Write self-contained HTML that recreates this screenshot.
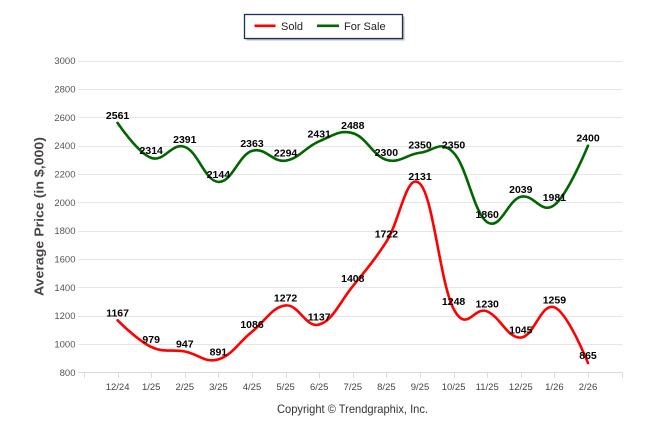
<!DOCTYPE html>
<html><head><meta charset="utf-8">
<style>
html,body{margin:0;padding:0;background:#fff;}
svg{display:block;}
text{font-family:"Liberation Sans",Arial,sans-serif;}
</style></head>
<body>
<svg id="c" width="646" height="434" viewBox="0 0 646 434" xmlns="http://www.w3.org/2000/svg">
<rect width="646" height="434" fill="#fff"/>
<g id="grid" stroke="#e6e6e6" stroke-width="1"></g>
<g id="ylab" font-size="9.5" fill="#555" text-anchor="end"></g>
<g id="xlab" font-size="9.5" fill="#444" text-anchor="middle"></g>
<g id="xticks" stroke="#dcdcdc" stroke-width="1"></g>
<path id="forsale" fill="none" stroke="#006600" stroke-width="2.6" stroke-linejoin="round" stroke-linecap="round"/>
<path id="sold" fill="none" stroke="#ff0000" stroke-width="2.6" stroke-linejoin="round" stroke-linecap="round"/>
<g id="dl" font-size="10.5" font-weight="bold" fill="#000" text-anchor="middle"></g>
<text x="43.5" y="216.5" transform="rotate(-90 43.5 216.5)" text-anchor="middle" font-size="13" font-weight="bold" fill="#4a4545" textLength="159" lengthAdjust="spacingAndGlyphs">Average Price (in $,000)</text>
<text x="352.5" y="413" text-anchor="middle" font-size="12" fill="#333" textLength="151" lengthAdjust="spacingAndGlyphs">Copyright © Trendgraphix, Inc.</text>
<!-- legend -->
<rect x="246.5" y="16.5" width="158" height="24" fill="#b8b8b8"/>
<rect x="244.5" y="14.5" width="158" height="24" fill="#fff" stroke="#1c2f5c" stroke-width="1.3"/>
<line x1="254.5" y1="25.8" x2="275.5" y2="25.8" stroke="#ff0000" stroke-width="2.6"/>
<text x="281" y="29.8" font-size="11" fill="#222">Sold</text>
<line x1="317" y1="25.8" x2="339" y2="25.8" stroke="#006600" stroke-width="2.6"/>
<text x="344" y="29.8" font-size="11" fill="#222">For Sale</text>
</svg>
<script>
(function(){
var NS="http://www.w3.org/2000/svg";
function el(tag,attrs,parent,txt){var e=document.createElementNS(NS,tag);for(var k in attrs)e.setAttribute(k,attrs[k]);if(txt!==undefined)e.textContent=txt;parent.appendChild(e);return e;}
var y0=372.3, k=28.33/200;
function Y(v){return y0-(v-800)*k;}
function X(i){return 117.6+33.6*i;}
var grid=document.getElementById('grid'), ylab=document.getElementById('ylab');
for(var v=800;v<=3000;v+=200){
  var y=Math.round(Y(v))+0.5;
  el('line',{x1:78,y1:y,x2:622.5,y2:y,stroke:v==800?'#d8d8d8':'#e6e6e6'},grid);
  el('text',{x:75.5,y:Y(v)+3.5},ylab,String(v));
}
var labels=["12/24","1/25","2/25","3/25","4/25","5/25","6/25","7/25","8/25","9/25","10/25","11/25","12/25","1/26","2/26"];
var xl=document.getElementById('xlab'), xt=document.getElementById('xticks');
for(var i=-1;i<=15;i++){
  var x=Math.round(84+33.6*(i+1))+0.5;
  el('line',{x1:x,y1:373,x2:x,y2:378},xt);
}
for(var i=0;i<labels.length;i++) el('text',{x:X(i),y:390},xl,labels[i]);
var sold=[1167,979,947,891,1086,1272,1137,1408,1722,2131,1248,1230,1045,1259,865];
var fs=[2561,2314,2391,2144,2363,2294,2431,2488,2300,2350,2350,1860,2039,1981,2400];
function spline(vals){
  var pts=vals.map(function(v,i){return {x:X(i),y:Y(v)};});
  var s=1.5,den=s+1,d="M"+pts[0].x.toFixed(2)+" "+pts[0].y.toFixed(2);
  for(var i=1;i<pts.length;i++){
    var p=pts[i],l=pts[i-1],lcx,lcy;
    if(i<pts.length-1){
      var n=pts[i+1];
      lcx=(s*p.x+l.x)/den; lcy=(s*p.y+l.y)/den;
      var rcx=(s*p.x+n.x)/den, rcy=(s*p.y+n.y)/den;
      var corr=((rcy-lcy)*(rcx-p.x))/(rcx-lcx)+p.y-rcy;
      lcy+=corr; rcy+=corr;
      p.rcx=rcx; p.rcy=rcy;
    } else {lcx=p.x;lcy=p.y;}
    var ax=(l.rcx!==undefined)?l.rcx:l.x, ay=(l.rcy!==undefined)?l.rcy:l.y;
    d+=" C"+ax.toFixed(2)+" "+ay.toFixed(2)+" "+lcx.toFixed(2)+" "+lcy.toFixed(2)+" "+p.x.toFixed(2)+" "+p.y.toFixed(2);
  }
  return d;
}
document.getElementById('sold').setAttribute('d',spline(sold));
document.getElementById('forsale').setAttribute('d',spline(fs));
var dl=document.getElementById('dl');
function labs(vals){for(var i=0;i<vals.length;i++) el('text',{x:X(i),y:Y(vals[i])-4},dl,String(vals[i]));}
labs(fs); labs(sold);
})();
</script>
</body></html>
